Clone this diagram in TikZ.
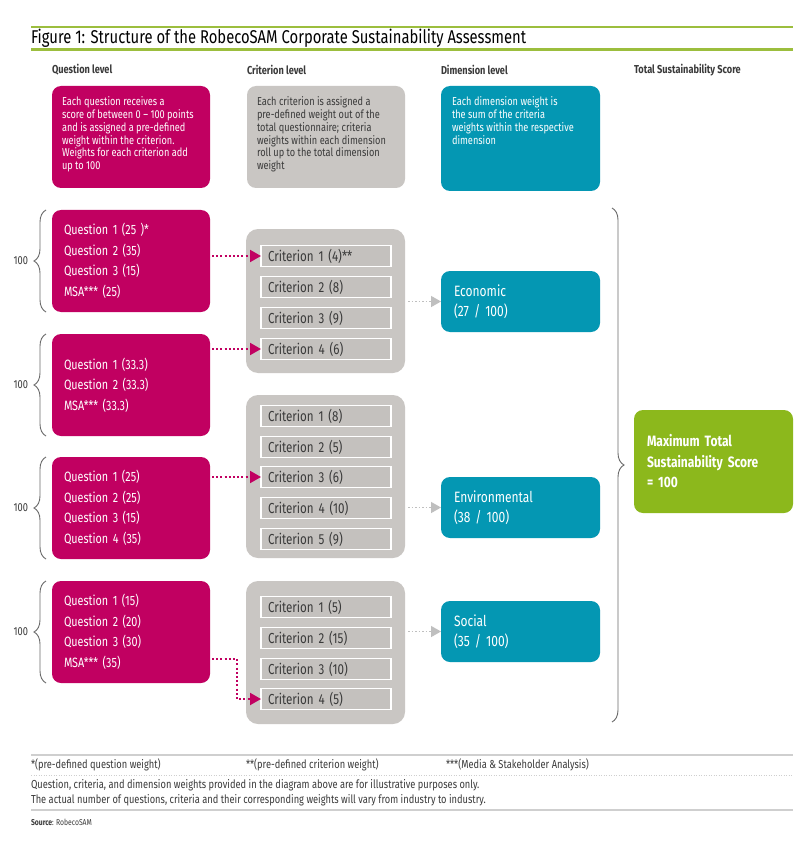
\documentclass[tikz,border=0pt]{standalone}
\usepackage{fontspec}
\setmainfont{Fira Sans}[FakeStretch=0.8]
\usetikzlibrary{positioning,arrows.meta,decorations.pathreplacing}

\definecolor{rsmagenta}{HTML}{C10061}
\definecolor{rsteal}{HTML}{0497B3}
\definecolor{rsgreen}{HTML}{8CB81C}
\definecolor{rsrule}{HTML}{9CBE3E}
\definecolor{rsgray}{HTML}{C9C6C3}
\definecolor{rscrit}{HTML}{C4C1BE}
\definecolor{rstext}{HTML}{3A3A3A}
\definecolor{rsbrace}{HTML}{6A6A6A}
\definecolor{rsline}{HTML}{CFCFCF}

\newcommand{\qfont}{\fontsize{13.5}{20.5}\selectfont}
\newcommand{\dfont}{\fontsize{15}{20.5}\selectfont}
\newcommand{\hfont}{\fontsize{11.5}{12.7}\selectfont}
\newcommand{\nfont}{\fontsize{11.6}{15}\selectfont}

\begin{document}
\begin{tikzpicture}[x=1pt,y=-1pt,
  every node/.style={inner sep=0pt,outer sep=0pt},
  box/.style={rounded corners=9pt,anchor=north west,align=left,text=white},
  qbox/.style={box,fill=rsmagenta,minimum width=158pt,minimum height=102pt,
    inner xsep=12pt,text width=134pt,font=\qfont},
  dimbox/.style={box,fill=rsteal,minimum width=159pt,minimum height=61pt,
    inner xsep=13pt,text width=133pt,font=\dfont},
  headbox/.style={rounded corners=9pt,anchor=north west,minimum width=158pt,minimum height=102pt},
  headtxt/.style={anchor=north west,align=left,font=\hfont},
  coltitle/.style={anchor=west,font=\fontsize{11.5}{13}\selectfont\bfseries,text=rstext},
  group/.style={fill=rsgray,rounded corners=12pt,anchor=north west,minimum width=159pt},
  crit/.style={draw=white,line width=1.5pt,fill=rscrit,anchor=west,minimum width=130pt,
    minimum height=21pt,inner xsep=7pt,text width=116pt,align=left,
    font=\fontsize{14.5}{16}\selectfont,text=rstext},
  qarrow/.style={rsmagenta,line width=2pt,dash pattern=on 2pt off 2.2pt,shorten <=2pt,
    -{Triangle[length=11pt,width=12pt]}},
  darrow/.style={rsline!80!gray,line width=1.3pt,dash pattern=on 1.5pt off 2pt,shorten <=3pt,
    -{Triangle[length=10pt,width=11pt]}},
  lbrace/.style={rsbrace,line width=0.9pt,decorate,decoration={brace,amplitude=12pt}},
  note/.style={anchor=west,font=\nfont,text=rstext}
]
\useasboundingbox[fill=white] (0,0) rectangle (808,850);

% title and rules
\draw[rsrule,line width=2pt] (31,27) -- (793,27);
\node[anchor=west,font=\fontsize{18.5}{20}\selectfont,text=black] (title) at (31,38)
  {Figure 1: Structure of the RobecoSAM Corporate Sustainability Assessment};
\draw[rsrule,line width=3pt] (31,50) -- (793,50);

% column titles
\node[coltitle] (tq) at (52,70) {Question level};
\node[coltitle] (tc) at (247,70) {Criterion level};
\node[coltitle] (td) at (441,70) {Dimension level};
\node[coltitle] (tt) at (634,70) {Total Sustainability Score};

% explanation boxes
\node[headbox,fill=rsmagenta] (hq) at (52,86) {};
\node[headtxt,text=white] (hqtxt) at (62,97) {Each question receives a\\score of between 0 – 100 points\\and is assigned a pre-defined\\weight within the criterion.\\Weights for each criterion add\\up to 100};
\node[headbox,fill=rsgray] (hc) at (247,86) {};
\node[headtxt,text=rstext] (hctxt) at (257,97) {Each criterion is assigned a\\pre-defined weight out of the\\total questionnaire; criteria\\weights within each dimension\\roll up to the total dimension\\weight};
\node[headbox,fill=rsteal,minimum width=159pt,minimum height=105pt] (hd) at (441,86) {};
\node[headtxt,text=white] (hdtxt) at (452,97) {Each dimension weight is\\the sum of the criteria\\weights within the respective\\dimension};

% question level
\node[qbox] (q1) at (52,210) {Question 1 (25 )*\\Question 2 (35)\\Question 3 (15)\\MSA*** (25)};
\node[qbox] (q2) at (52,334) {Question 1 (33.3)\\Question 2 (33.3)\\MSA*** (33.3)};
\node[qbox] (q3) at (52,457) {Question 1 (25)\\Question 2 (25)\\Question 3 (15)\\Question 4 (35)};
\node[qbox] (q4) at (52,581) {Question 1 (15)\\Question 2 (20)\\Question 3 (30)\\MSA*** (35)};

\foreach \q in {q1,q2,q3,q4}
  \draw[lbrace] ([xshift=-6pt]\q.south west) -- node[left=18pt,font=\nfont,text=rstext] {100}
    ([xshift=-6pt]\q.north west);

% criterion level
\node[group,minimum height=144pt] (g1) at (246,229) {};
\node[crit] (c11) at (261,256) {Criterion 1 (4)**};
\node[crit] (c12) at (261,287) {Criterion 2 (8)};
\node[crit] (c13) at (261,318) {Criterion 3 (9)};
\node[crit] (c14) at (261,349) {Criterion 4 (6)};

\node[group,minimum height=163pt] (g2) at (246,395) {};
\node[crit] (c21) at (261,416) {Criterion 1 (8)};
\node[crit] (c22) at (261,447) {Criterion 2 (5)};
\node[crit] (c23) at (261,477) {Criterion 3 (6)};
\node[crit] (c24) at (261,508) {Criterion 4 (10)};
\node[crit] (c25) at (261,539) {Criterion 5 (9)};

\node[group,minimum height=143pt] (g3) at (246,581) {};
\node[crit] (c31) at (261,607) {Criterion 1 (5)};
\node[crit] (c32) at (261,638) {Criterion 2 (15)};
\node[crit] (c33) at (261,669) {Criterion 3 (10)};
\node[crit] (c34) at (261,699) {Criterion 4 (5)};

\draw[qarrow] (q1.east |- c11.west) -- (c11.west);
\draw[qarrow] (q2.east |- c14.west) -- (c14.west);
\draw[qarrow] (q3.east |- c23.west) -- (c23.west);
\draw[qarrow] ([yshift=-27pt]q4.east) -| ([xshift=-24pt]c34.west) -- (c34.west);

% dimension level
\node[dimbox] (econ) at (441,271) {Economic\\(27 / 100)};
\node[dimbox] (env) at (441,477) {Environmental\\(38 / 100)};
\node[dimbox] (soc) at (441,601) {Social\\(35 / 100)};

\draw[darrow] (g1.east |- econ.west) -- (econ.west);
\draw[darrow] (g2.east |- env.west) -- (env.west);
\draw[darrow] (g3.east |- soc.west) -- (soc.west);

% total score
\coordinate (bracetop) at (612,208);
\coordinate (bracebot) at (612,722);
\draw[lbrace] (bracetop) -- (bracebot);
\node[box,fill=rsgreen,minimum width=159pt,minimum height=103pt,inner xsep=13pt,
  text width=133pt,font=\dfont\bfseries] (total) at (634,410)
  {Maximum Total\\Sustainability Score\\= 100};

% notes
\draw[rsline,line width=2pt] (31,755) -- (793,755);
\node[note] (n1) at (31,765) {*(pre-defined question weight)};
\node[note] (n2) at (246,765) {**(pre-defined criterion weight)};
\node[note] (n3) at (446,765) {***(Media \& Stakeholder Analysis)};
\draw[rsline,line width=1pt,dash pattern=on 1pt off 1.5pt] (31,775) -- (793,775);
\node[note] (n4) at (31,785) {Question, criteria, and dimension weights provided in the diagram above are for illustrative purposes only.};
\node[note] (n5) at (31,800) {The actual number of questions, criteria and their corresponding weights will vary from industry to industry.};
\draw[rsline,line width=2pt] (31,810) -- (793,810);
\node[note,font=\fontsize{8.5}{10}\selectfont] (src) at (31,822) {\textbf{Source}: RobecoSAM};
\end{tikzpicture}
\end{document}
